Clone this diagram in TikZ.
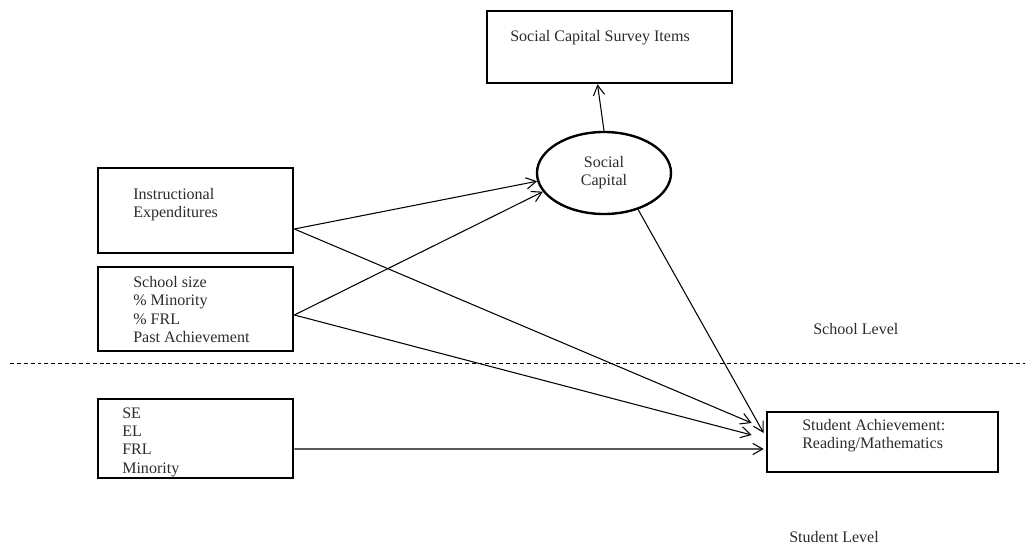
\documentclass[tikz,border=0pt]{standalone}
\usepackage{fontspec}
\setmainfont{Liberation Serif}
\usepackage{xcolor}
\usepackage{tikz}
\usetikzlibrary{positioning, arrows.meta, calc, shapes.geometric}
\definecolor{labelgray}{HTML}{2B2B2B}

\begin{document}
\begin{tikzpicture}[
    x=0.025cm, y=-0.025cm,
    box/.style={draw, line width=1.9pt, minimum width=4.875cm, inner sep=0pt},
    latent/.style={draw, ellipse, line width=1.7pt, minimum width=3.35cm, minimum height=2.05cm,
                   inner sep=0pt, align=center, text=labelgray, font=\fontsize{11.4}{13}\selectfont},
    boxtext/.style={inner sep=0pt, align=left, text=labelgray, font=\fontsize{11.4}{13}\selectfont},
    path/.style={line width=0.75pt, -{Straight Barb[length=7pt, width=8pt, line width=0.75pt]}},
]
\useasboundingbox (0,0) rectangle (1029,544);

% Measurement model (top)
\node[box, minimum width=6.125cm, minimum height=1.8cm] (survey) at (609.5,47) {};
\node[boxtext, anchor=west] (surveytxt) at (510,38) {Social Capital Survey Items};
\node[latent] (social) at (604,173) {Social\\Capital};

% School-level predictors
\node[box, minimum height=2.125cm] (inst) at (195.5,210.5) {};
\node[boxtext, anchor=west] (insttxt) at (133,205) {Instructional\\Expenditures};
\node[box, minimum height=2.1cm] (school) at (195.5,309) {};
\node[boxtext, anchor=west] (schooltxt) at (133,309.5) {School size\\\% Minority\\\% FRL\\Past Achievement};

% Student-level predictors and outcome
\node[box, minimum height=1.975cm] (student) at (195.5,438.5) {};
\node[boxtext, anchor=west] (studenttxt) at (122,442) {SE\\EL\\FRL\\Minority};
\node[box, minimum width=5.775cm, minimum height=1.5cm] (achieve) at (882.5,442) {};
\node[boxtext, anchor=west] (achievetxt) at (802,435.5) {Student Achievement:\\Reading/Mathematics};

% Level divider
\coordinate (divl) at (10,363);
\coordinate (divr) at (1025,363);
\draw[line width=0.6pt, dash pattern=on 2.8pt off 2.1pt] (divl) -- (divr);
\node[boxtext, anchor=west] (schoollevel) at (813,329) {School Level};
\node[boxtext, anchor=west] (studentlevel) at (789,537) {Student Level};

% Paths
\draw[path] (social.north) -- ($(survey.south)+(-12,0)$);
\draw[path] ($(inst.east)+(0,18.5)$) -- (social.187);
\draw[path] ($(inst.east)+(0,18.5)$) -- ($(achieve.west)+(-14,-19)$);
\draw[path] ($(school.east)+(0,6)$) -- (social.197);
\draw[path] ($(school.east)+(0,6)$) -- ($(achieve.west)+(-14,-7)$);
\draw[path] (social.-47) -- ($(achieve.west)+(-2,-9)$);
\draw[path] ($(student.east)+(0,10.5)$) -- ($(achieve.west)+(-2,7)$);

\end{tikzpicture}
\end{document}
